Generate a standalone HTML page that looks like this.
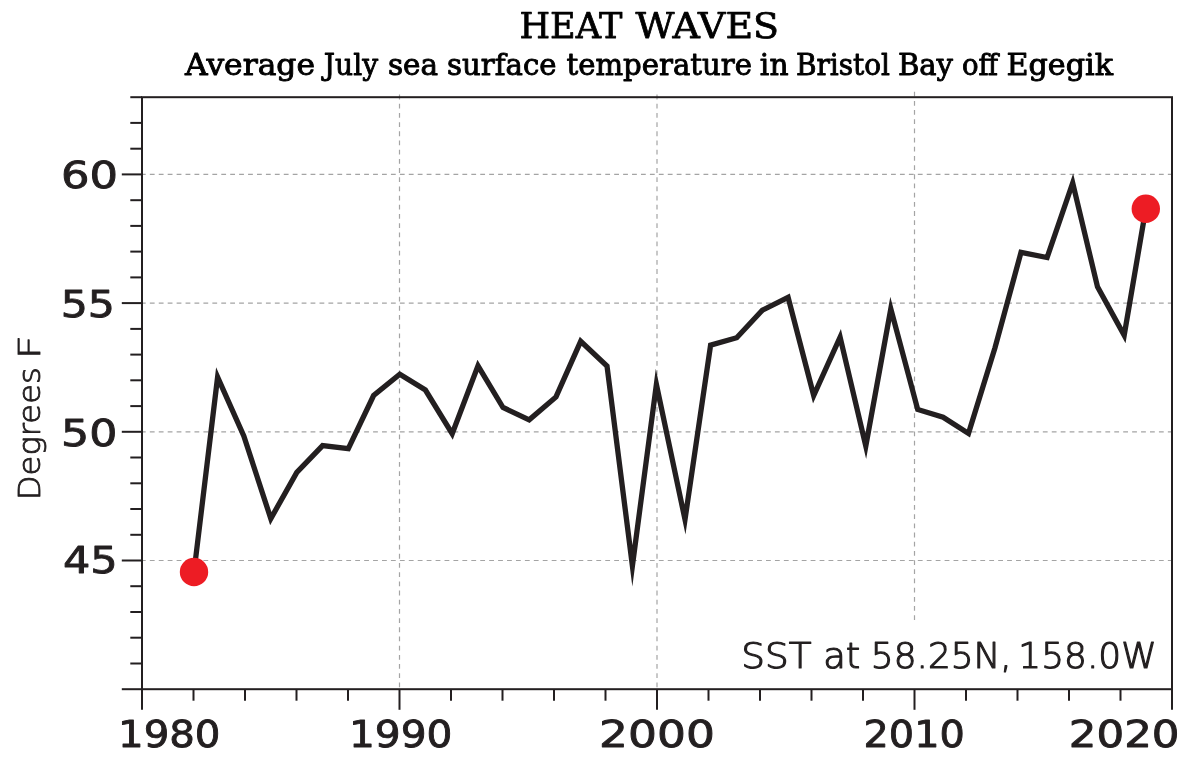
<!DOCTYPE html>
<html><head><meta charset="utf-8"><title>Heat Waves</title>
<style>
html,body{margin:0;padding:0;background:#fff;}
body{width:1198px;height:764px;overflow:hidden;}
svg{display:block;will-change:transform;}
</style></head>
<body>
<svg width="1198" height="764" viewBox="0 0 1198 764">
<rect width="1198" height="764" fill="#fff"/>
<line x1="399.5" y1="94.6" x2="399.5" y2="688.0" stroke="#a4a4a4" stroke-width="1.2" stroke-dasharray="4.8 4.385"/>
<line x1="657.0" y1="94.6" x2="657.0" y2="688.0" stroke="#a4a4a4" stroke-width="1.2" stroke-dasharray="4.8 4.385"/>
<line x1="914.5" y1="91.7" x2="914.5" y2="621.0" stroke="#a4a4a4" stroke-width="1.2" stroke-dasharray="4.8 4.385"/>
<line x1="140.9" y1="560.5" x2="1171.0" y2="560.5" stroke="#a4a4a4" stroke-width="1.2" stroke-dasharray="4.8 4.13"/>
<line x1="140.9" y1="431.8" x2="1171.0" y2="431.8" stroke="#a4a4a4" stroke-width="1.2" stroke-dasharray="4.8 4.13"/>
<line x1="140.9" y1="303.1" x2="1171.0" y2="303.1" stroke="#a4a4a4" stroke-width="1.2" stroke-dasharray="4.8 4.13"/>
<line x1="140.9" y1="174.4" x2="1171.0" y2="174.4" stroke="#a4a4a4" stroke-width="1.2" stroke-dasharray="4.8 4.13"/>
<line x1="121.8" y1="689.2" x2="142.0" y2="689.2" stroke="#231f20" stroke-width="2"/>
<line x1="130.3" y1="663.5" x2="142.0" y2="663.5" stroke="#231f20" stroke-width="2"/>
<line x1="130.3" y1="637.7" x2="142.0" y2="637.7" stroke="#231f20" stroke-width="2"/>
<line x1="130.3" y1="612.0" x2="142.0" y2="612.0" stroke="#231f20" stroke-width="2"/>
<line x1="130.3" y1="586.2" x2="142.0" y2="586.2" stroke="#231f20" stroke-width="2"/>
<line x1="121.8" y1="560.5" x2="142.0" y2="560.5" stroke="#231f20" stroke-width="2"/>
<line x1="130.3" y1="534.8" x2="142.0" y2="534.8" stroke="#231f20" stroke-width="2"/>
<line x1="130.3" y1="509.0" x2="142.0" y2="509.0" stroke="#231f20" stroke-width="2"/>
<line x1="130.3" y1="483.3" x2="142.0" y2="483.3" stroke="#231f20" stroke-width="2"/>
<line x1="130.3" y1="457.5" x2="142.0" y2="457.5" stroke="#231f20" stroke-width="2"/>
<line x1="121.8" y1="431.8" x2="142.0" y2="431.8" stroke="#231f20" stroke-width="2"/>
<line x1="130.3" y1="406.1" x2="142.0" y2="406.1" stroke="#231f20" stroke-width="2"/>
<line x1="130.3" y1="380.3" x2="142.0" y2="380.3" stroke="#231f20" stroke-width="2"/>
<line x1="130.3" y1="354.6" x2="142.0" y2="354.6" stroke="#231f20" stroke-width="2"/>
<line x1="130.3" y1="328.9" x2="142.0" y2="328.9" stroke="#231f20" stroke-width="2"/>
<line x1="121.8" y1="303.1" x2="142.0" y2="303.1" stroke="#231f20" stroke-width="2"/>
<line x1="130.3" y1="277.4" x2="142.0" y2="277.4" stroke="#231f20" stroke-width="2"/>
<line x1="130.3" y1="251.6" x2="142.0" y2="251.6" stroke="#231f20" stroke-width="2"/>
<line x1="130.3" y1="225.9" x2="142.0" y2="225.9" stroke="#231f20" stroke-width="2"/>
<line x1="130.3" y1="200.2" x2="142.0" y2="200.2" stroke="#231f20" stroke-width="2"/>
<line x1="121.8" y1="174.4" x2="142.0" y2="174.4" stroke="#231f20" stroke-width="2"/>
<line x1="130.3" y1="148.7" x2="142.0" y2="148.7" stroke="#231f20" stroke-width="2"/>
<line x1="130.3" y1="122.9" x2="142.0" y2="122.9" stroke="#231f20" stroke-width="2"/>
<line x1="130.3" y1="97.2" x2="142.0" y2="97.2" stroke="#231f20" stroke-width="2"/>
<line x1="142.0" y1="689.2" x2="142.0" y2="709.8" stroke="#231f20" stroke-width="2"/>
<line x1="193.5" y1="689.2" x2="193.5" y2="700.7" stroke="#231f20" stroke-width="2"/>
<line x1="245.0" y1="689.2" x2="245.0" y2="700.7" stroke="#231f20" stroke-width="2"/>
<line x1="296.5" y1="689.2" x2="296.5" y2="700.7" stroke="#231f20" stroke-width="2"/>
<line x1="348.0" y1="689.2" x2="348.0" y2="700.7" stroke="#231f20" stroke-width="2"/>
<line x1="399.5" y1="689.2" x2="399.5" y2="709.8" stroke="#231f20" stroke-width="2"/>
<line x1="451.0" y1="689.2" x2="451.0" y2="700.7" stroke="#231f20" stroke-width="2"/>
<line x1="502.5" y1="689.2" x2="502.5" y2="700.7" stroke="#231f20" stroke-width="2"/>
<line x1="554.0" y1="689.2" x2="554.0" y2="700.7" stroke="#231f20" stroke-width="2"/>
<line x1="605.5" y1="689.2" x2="605.5" y2="700.7" stroke="#231f20" stroke-width="2"/>
<line x1="657.0" y1="689.2" x2="657.0" y2="709.8" stroke="#231f20" stroke-width="2"/>
<line x1="708.5" y1="689.2" x2="708.5" y2="700.7" stroke="#231f20" stroke-width="2"/>
<line x1="760.0" y1="689.2" x2="760.0" y2="700.7" stroke="#231f20" stroke-width="2"/>
<line x1="811.5" y1="689.2" x2="811.5" y2="700.7" stroke="#231f20" stroke-width="2"/>
<line x1="863.0" y1="689.2" x2="863.0" y2="700.7" stroke="#231f20" stroke-width="2"/>
<line x1="914.5" y1="689.2" x2="914.5" y2="709.8" stroke="#231f20" stroke-width="2"/>
<line x1="966.0" y1="689.2" x2="966.0" y2="700.7" stroke="#231f20" stroke-width="2"/>
<line x1="1017.5" y1="689.2" x2="1017.5" y2="700.7" stroke="#231f20" stroke-width="2"/>
<line x1="1069.0" y1="689.2" x2="1069.0" y2="700.7" stroke="#231f20" stroke-width="2"/>
<line x1="1120.5" y1="689.2" x2="1120.5" y2="700.7" stroke="#231f20" stroke-width="2"/>
<line x1="1172.0" y1="689.2" x2="1172.0" y2="709.8" stroke="#231f20" stroke-width="2"/>
<rect x="142.0" y="97.2" width="1030.0" height="592.0" fill="none" stroke="#231f20" stroke-width="2"/>
<path d="M194.0,572.0 L217.6,377.1 L243.8,436.0 L270.8,518.6 L296.8,472.4 L322.6,445.6 L348.3,448.7 L373.6,395.5 L399.8,374.3 L425.4,390.0 L452.2,433.7 L478.0,365.8 L503.0,407.5 L529.2,419.8 L556.0,396.9 L580.7,341.3 L607.0,366.0 L632.4,565.8 L656.4,384.4 L685.0,519.5 L710.6,345.2 L736.7,337.7 L762.4,310.2 L788.1,297.4 L813.7,395.5 L840.1,337.2 L865.8,446.0 L890.8,308.9 L917.7,409.5 L943.1,417.2 L968.5,433.4 L995.0,347.8 L1021.0,252.4 L1047.1,257.5 L1072.7,183.0 L1097.5,286.9 L1124.2,335.3 L1145.8,208.7" fill="none" stroke="#231f20" stroke-width="5.3" stroke-linejoin="miter" stroke-miterlimit="40"/>
<circle cx="194.0" cy="572.0" r="14.2" fill="#ed1c24"/>
<circle cx="1145.8" cy="208.7" r="14.2" fill="#ed1c24"/>
<text x="519.47" y="38.40" font-family="'DejaVu Serif', 'Liberation Serif', serif" font-size="35.2" fill="#000" stroke="#000" stroke-width="0.75" stroke-linejoin="round" textLength="103.06" lengthAdjust="spacingAndGlyphs">HEAT</text>
<text x="635.50" y="38.40" font-family="'DejaVu Serif', 'Liberation Serif', serif" font-size="35.2" fill="#000" stroke="#000" stroke-width="0.75" stroke-linejoin="round" textLength="143.54" lengthAdjust="spacingAndGlyphs">WAVES</text>
<text x="185.00" y="75.10" font-family="'DejaVu Serif', 'Liberation Serif', serif" font-size="29.2" fill="#000" stroke="#000" stroke-width="0.9" stroke-linejoin="round" textLength="130.02" lengthAdjust="spacingAndGlyphs">Average</text>
<text x="323.82" y="75.10" font-family="'DejaVu Serif', 'Liberation Serif', serif" font-size="29.2" fill="#000" stroke="#000" stroke-width="0.9" stroke-linejoin="round" textLength="54.20" lengthAdjust="spacingAndGlyphs">July</text>
<text x="387.91" y="75.10" font-family="'DejaVu Serif', 'Liberation Serif', serif" font-size="29.2" fill="#000" stroke="#000" stroke-width="0.9" stroke-linejoin="round" textLength="50.15" lengthAdjust="spacingAndGlyphs">sea</text>
<text x="446.98" y="75.10" font-family="'DejaVu Serif', 'Liberation Serif', serif" font-size="29.2" fill="#000" stroke="#000" stroke-width="0.9" stroke-linejoin="round" textLength="109.58" lengthAdjust="spacingAndGlyphs">surface</text>
<text x="566.49" y="75.10" font-family="'DejaVu Serif', 'Liberation Serif', serif" font-size="29.2" fill="#000" stroke="#000" stroke-width="0.9" stroke-linejoin="round" textLength="185.52" lengthAdjust="spacingAndGlyphs">temperature</text>
<text x="759.89" y="75.10" font-family="'DejaVu Serif', 'Liberation Serif', serif" font-size="29.2" fill="#000" stroke="#000" stroke-width="0.9" stroke-linejoin="round" textLength="28.65" lengthAdjust="spacingAndGlyphs">in</text>
<text x="795.95" y="75.10" font-family="'DejaVu Serif', 'Liberation Serif', serif" font-size="29.2" fill="#000" stroke="#000" stroke-width="0.9" stroke-linejoin="round" textLength="94.10" lengthAdjust="spacingAndGlyphs">Bristol</text>
<text x="897.95" y="75.10" font-family="'DejaVu Serif', 'Liberation Serif', serif" font-size="29.2" fill="#000" stroke="#000" stroke-width="0.9" stroke-linejoin="round" textLength="55.07" lengthAdjust="spacingAndGlyphs">Bay</text>
<text x="962.02" y="75.10" font-family="'DejaVu Serif', 'Liberation Serif', serif" font-size="29.2" fill="#000" stroke="#000" stroke-width="0.9" stroke-linejoin="round" textLength="36.08" lengthAdjust="spacingAndGlyphs">off</text>
<text x="1006.46" y="75.10" font-family="'DejaVu Serif', 'Liberation Serif', serif" font-size="29.2" fill="#000" stroke="#000" stroke-width="0.9" stroke-linejoin="round" textLength="106.57" lengthAdjust="spacingAndGlyphs">Egegik</text>
<text x="61.05" y="188.20" font-family="'DejaVu Sans', 'Liberation Sans', sans-serif" font-size="36.7" fill="#231f20" stroke="#231f20" stroke-width="0.85" stroke-linejoin="round" textLength="57.04" lengthAdjust="spacingAndGlyphs">60</text>
<text x="60.68" y="316.80" font-family="'DejaVu Sans', 'Liberation Sans', sans-serif" font-size="36.7" fill="#231f20" stroke="#231f20" stroke-width="0.85" stroke-linejoin="round" textLength="54.18" lengthAdjust="spacingAndGlyphs">55</text>
<text x="61.09" y="446.40" font-family="'DejaVu Sans', 'Liberation Sans', sans-serif" font-size="36.7" fill="#231f20" stroke="#231f20" stroke-width="0.85" stroke-linejoin="round" textLength="56.29" lengthAdjust="spacingAndGlyphs">50</text>
<text x="62.95" y="573.30" font-family="'DejaVu Sans', 'Liberation Sans', sans-serif" font-size="36.7" fill="#231f20" stroke="#231f20" stroke-width="0.85" stroke-linejoin="round" textLength="54.75" lengthAdjust="spacingAndGlyphs">45</text>
<text x="118.02" y="747.30" font-family="'DejaVu Sans', 'Liberation Sans', sans-serif" font-size="36.7" fill="#231f20" stroke="#231f20" stroke-width="0.85" stroke-linejoin="round" textLength="102.48" lengthAdjust="spacingAndGlyphs">1980</text>
<text x="348.92" y="747.30" font-family="'DejaVu Sans', 'Liberation Sans', sans-serif" font-size="36.7" fill="#231f20" stroke="#231f20" stroke-width="0.85" stroke-linejoin="round" textLength="103.48" lengthAdjust="spacingAndGlyphs">1990</text>
<text x="599.12" y="747.30" font-family="'DejaVu Sans', 'Liberation Sans', sans-serif" font-size="36.7" fill="#231f20" stroke="#231f20" stroke-width="0.85" stroke-linejoin="round" textLength="115.73" lengthAdjust="spacingAndGlyphs">2000</text>
<text x="863.57" y="747.30" font-family="'DejaVu Sans', 'Liberation Sans', sans-serif" font-size="36.7" fill="#231f20" stroke="#231f20" stroke-width="0.85" stroke-linejoin="round" textLength="101.25" lengthAdjust="spacingAndGlyphs">2010</text>
<text x="1068.78" y="747.30" font-family="'DejaVu Sans', 'Liberation Sans', sans-serif" font-size="36.7" fill="#231f20" stroke="#231f20" stroke-width="0.85" stroke-linejoin="round" textLength="110.78" lengthAdjust="spacingAndGlyphs">2020</text>
<text x="741.35" y="667.90" font-family="'DejaVu Sans', 'Liberation Sans', sans-serif" font-size="34.8" fill="#231f20" font-weight="200" stroke="#231f20" stroke-width="1.15" stroke-linejoin="round" textLength="70.19" lengthAdjust="spacingAndGlyphs">SST</text>
<text x="823.21" y="667.90" font-family="'DejaVu Sans', 'Liberation Sans', sans-serif" font-size="34.8" fill="#231f20" font-weight="200" stroke="#231f20" stroke-width="1.15" stroke-linejoin="round" textLength="37.07" lengthAdjust="spacingAndGlyphs">at</text>
<text x="870.83" y="667.90" font-family="'DejaVu Sans', 'Liberation Sans', sans-serif" font-size="34.8" fill="#231f20" font-weight="200" stroke="#231f20" stroke-width="1.15" stroke-linejoin="round" textLength="140.94" lengthAdjust="spacingAndGlyphs">58.25N,</text>
<text x="1018.36" y="667.90" font-family="'DejaVu Sans', 'Liberation Sans', sans-serif" font-size="34.8" fill="#231f20" font-weight="200" stroke="#231f20" stroke-width="1.15" stroke-linejoin="round" textLength="138.29" lengthAdjust="spacingAndGlyphs">158.0W</text>
<text transform="translate(39.80,500.29) rotate(-90)" x="0" y="0" font-family="'DejaVu Sans', 'Liberation Sans', sans-serif" font-size="30.8" fill="#231f20" font-weight="200" stroke="#231f20" stroke-width="0.9" stroke-linejoin="round" textLength="133.07" lengthAdjust="spacingAndGlyphs">Degrees</text>
<text transform="translate(39.80,359.35) rotate(-90)" x="0" y="0" font-family="'DejaVu Sans', 'Liberation Sans', sans-serif" font-size="30.8" fill="#231f20" font-weight="200" stroke="#231f20" stroke-width="0.9" stroke-linejoin="round" textLength="24.11" lengthAdjust="spacingAndGlyphs">F</text>
</svg>
</body></html>
